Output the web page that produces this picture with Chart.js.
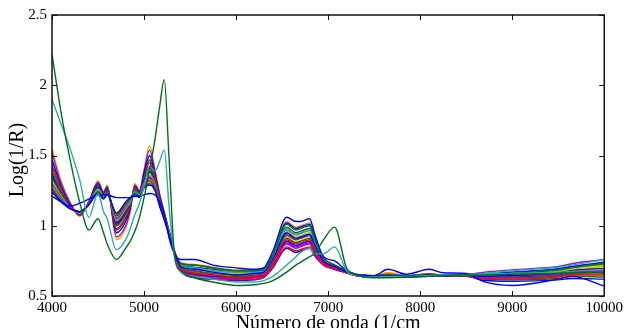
<!DOCTYPE html>
<html>
<head>
<meta charset="utf-8">
<script src="https://cdn.jsdelivr.net/npm/chart.js@4.4.1/dist/chart.umd.min.js"></script>
<style>
  html, body { margin: 0; padding: 0; background: #fff; }
  #c { display: block; }
</style>
</head>
<body>
<canvas id="c" width="626" height="328"></canvas>
<script>
// ---- data ----
const xTitle = 'Número de onda (1/cm';
const yTitle = 'Log(1/R)';
const xTicks = [4000, 5000, 6000, 7000, 8000, 9000, 10000];
const yTicks = [0.5, 1, 1.5, 2, 2.5];

const wavenumbers = [4000,4100,4200,4300,4400,4500,4560,4600,4700,4800,4850,4900,4950,5000,5060,5120,5170,5220,5270,5330,5400,5550,5750,6000,6200,6300,6400,6550,6650,6700,6800,6850,6950,7070,7200,7300,7500,7650,7850,8100,8250,8500,8700,9000,9500,9650,10000];

const specGreenOut = [2.22,1.80,1.46,1.17,0.97,1.05,0.95,0.87,0.76,0.84,0.89,0.96,1.06,1.20,1.40,1.62,1.85,2.04,1.50,0.80, 0.68,0.63,0.60,0.575,0.58,0.59,0.61,0.67,0.72,0.74,0.78,0.80,0.90,0.99,0.70,0.65, 0.63,0.63,0.635,0.64,0.645, 0.65,0.65,0.655,0.66,0.665,0.67];
const specTealOut  = [1.90,1.72,1.54,1.33,1.06,1.23,1.10,1.05,0.83,0.90,0.98,1.08,1.16,1.28,1.42,1.39,1.46,1.54,1.15,0.78, 0.67,0.64,0.62,0.60,0.60,0.61,0.64,0.72,0.78,0.81,0.84,0.80,0.80,0.85,0.68,0.645, 0.635,0.64,0.64,0.645,0.65, 0.65,0.655,0.66,0.67,0.675,0.69];
const specBlueOut  = [1.21,1.17,1.14,1.16,1.19,1.22,1.22,1.22,1.20,1.20,1.20,1.21,1.21,1.22,1.23,1.22,1.17,1.08,0.92,0.80, 0.76,0.76,0.72,0.70,0.69,0.70,0.82,1.06,1.03,1.03,1.05,0.95,0.78,0.75,0.68,0.65, 0.645,0.69,0.655,0.69,0.665, 0.66,0.60,0.575,0.62,0.64,0.57];

const specA = [1.24,1.17,1.12,1.10,1.15,1.23,1.19,1.22,1.09,1.17,1.20,1.22,1.20,1.27,1.29,1.25,1.14,1.04,0.94,0.81, 0.71,0.69,0.67,0.65,0.66,0.67,0.76,0.95,0.91,0.92,0.94,0.87,0.75,0.71,0.67,0.65, 0.64,0.645,0.64,0.65,0.645, 0.648,0.64,0.648,0.665,0.68,0.695];
const specB = [1.25,1.18,1.12,1.10,1.15,1.24,1.20,1.23,1.08,1.16,1.19,1.23,1.21,1.27,1.30,1.26,1.14,1.05,0.94,0.81, 0.73,0.72,0.70,0.68,0.68,0.69,0.79,1.01,0.97,0.98,1.00,0.91,0.77,0.72,0.68,0.65, 0.645,0.65,0.645,0.655,0.65, 0.65,0.65,0.66,0.685,0.70,0.73];
const specC = [1.27,1.18,1.13,1.10,1.15,1.24,1.20,1.23,1.07,1.15,1.19,1.23,1.21,1.28,1.32,1.26,1.15,1.05,0.94,0.81, 0.70,0.66,0.65,0.63,0.64,0.65,0.73,0.90,0.87,0.88,0.90,0.83,0.74,0.70,0.67,0.65, 0.64,0.655,0.64,0.655,0.645, 0.643,0.62,0.62,0.635,0.65,0.65];
const specD = [1.29,1.19,1.13,1.09,1.15,1.25,1.20,1.23,1.06,1.14,1.18,1.24,1.21,1.29,1.33,1.27,1.15,1.05,0.95,0.81, 0.72,0.70,0.68,0.67,0.67,0.68,0.77,0.98,0.94,0.95,0.97,0.89,0.76,0.71,0.68,0.65, 0.645,0.645,0.64,0.65,0.65, 0.654,0.66,0.68,0.705,0.72,0.76];
const specE = [1.30,1.20,1.13,1.09,1.16,1.25,1.20,1.24,1.05,1.13,1.18,1.24,1.21,1.30,1.35,1.28,1.16,1.06,0.95,0.81, 0.69,0.645,0.63,0.62,0.63,0.64,0.72,0.87,0.84,0.85,0.87,0.81,0.73,0.69,0.67,0.645, 0.64,0.64,0.635,0.645,0.64, 0.646,0.63,0.64,0.655,0.67,0.68];
const specF = [1.32,1.21,1.13,1.09,1.16,1.26,1.21,1.24,1.04,1.12,1.17,1.24,1.22,1.30,1.36,1.29,1.16,1.06,0.95,0.81, 0.72,0.69,0.67,0.66,0.66,0.67,0.76,0.96,0.92,0.93,0.95,0.87,0.76,0.71,0.67,0.65, 0.64,0.66,0.64,0.655,0.645, 0.65,0.65,0.66,0.675,0.69,0.71];
const specG = [1.34,1.22,1.13,1.09,1.16,1.26,1.21,1.24,1.03,1.11,1.17,1.25,1.22,1.31,1.38,1.30,1.17,1.06,0.95,0.81, 0.71,0.675,0.66,0.65,0.65,0.66,0.75,0.93,0.90,0.91,0.93,0.85,0.75,0.70,0.67,0.65, 0.64,0.64,0.64,0.645,0.645, 0.645,0.63,0.63,0.645,0.66,0.665];
const specH = [1.35,1.22,1.14,1.09,1.16,1.27,1.21,1.25,1.02,1.10,1.16,1.25,1.22,1.32,1.39,1.30,1.17,1.06,0.95,0.81, 0.73,0.72,0.70,0.68,0.68,0.69,0.79,1.02,0.98,0.99,1.01,0.92,0.77,0.72,0.68,0.655, 0.645,0.65,0.645,0.655,0.65, 0.652,0.66,0.67,0.695,0.71,0.74];
const specI = [1.39,1.24,1.14,1.09,1.16,1.28,1.22,1.26,1.00,1.08,1.15,1.26,1.23,1.33,1.42,1.32,1.18,1.07,0.96,0.82, 0.70,0.665,0.65,0.64,0.64,0.655,0.74,0.91,0.88,0.89,0.91,0.84,0.74,0.70,0.67,0.65, 0.64,0.64,0.64,0.645,0.64, 0.642,0.62,0.615,0.625,0.64,0.635];
const specJ = [1.42,1.26,1.14,1.08,1.16,1.28,1.22,1.26,0.98,1.06,1.14,1.27,1.23,1.34,1.45,1.34,1.19,1.08,0.96,0.82, 0.68,0.635,0.625,0.615,0.62,0.635,0.71,0.85,0.82,0.83,0.85,0.80,0.72,0.69,0.665,0.645, 0.635,0.64,0.635,0.645,0.64, 0.648,0.64,0.648,0.665,0.68,0.695];
const specK = [1.47,1.28,1.15,1.08,1.17,1.30,1.23,1.27,0.95,1.03,1.13,1.28,1.24,1.37,1.50,1.36,1.21,1.09,0.96,0.82, 0.695,0.655,0.64,0.63,0.635,0.65,0.73,0.89,0.86,0.87,0.89,0.825,0.735,0.70,0.67,0.65, 0.64,0.64,0.64,0.645,0.645, 0.645,0.63,0.635,0.65,0.665,0.67];
const specL = [1.52,1.30,1.16,1.07,1.17,1.31,1.24,1.28,0.92,1.00,1.11,1.29,1.25,1.39,1.54,1.38,1.22,1.09,0.97,0.82, 0.71,0.68,0.665,0.65,0.65,0.665,0.75,0.94,0.905,0.915,0.935,0.86,0.75,0.705,0.67,0.65, 0.64,0.645,0.64,0.65,0.65, 0.654,0.67,0.686,0.71,0.73,0.76];
const specM = [1.55,1.32,1.16,1.07,1.17,1.32,1.24,1.29,0.90,0.98,1.10,1.30,1.25,1.40,1.57,1.40,1.23,1.10,0.97,0.82, 0.70,0.67,0.655,0.64,0.645,0.66,0.74,0.92,0.885,0.895,0.915,0.845,0.745,0.70,0.67,0.65, 0.64,0.64,0.64,0.65,0.645, 0.65,0.65,0.66,0.68,0.70,0.72];
const specN = [1.26,1.18,1.12,1.10,1.15,1.24,1.20,1.23,1.08,1.16,1.19,1.23,1.21,1.28,1.31,1.26,1.14,1.05,0.94,0.81, 0.74,0.725,0.705,0.685,0.685,0.70,0.80,1.03,0.99,1.00,1.02,0.92,0.78,0.72,0.68,0.655, 0.645,0.665,0.645,0.66,0.65, 0.648,0.645,0.652,0.67,0.686,0.70];
const specO = [1.29,1.20,1.13,1.09,1.15,1.25,1.20,1.24,1.06,1.14,1.18,1.24,1.21,1.29,1.34,1.28,1.15,1.05,0.95,0.81, 0.69,0.65,0.64,0.625,0.63,0.645,0.72,0.88,0.85,0.86,0.88,0.82,0.73,0.695,0.67,0.647, 0.64,0.64,0.64,0.645,0.645, 0.651,0.655,0.669,0.69,0.708,0.73];
const specP = [1.31,1.20,1.13,1.09,1.16,1.26,1.20,1.24,1.04,1.12,1.17,1.24,1.21,1.30,1.35,1.28,1.16,1.06,0.95,0.81, 0.72,0.695,0.68,0.66,0.665,0.675,0.765,0.97,0.935,0.945,0.965,0.88,0.76,0.71,0.675,0.652, 0.64,0.66,0.64,0.655,0.645, 0.644,0.625,0.626,0.64,0.652,0.658];
const specQ = [1.37,1.23,1.14,1.09,1.16,1.27,1.21,1.25,1.01,1.09,1.16,1.26,1.22,1.32,1.41,1.31,1.18,1.07,0.95,0.81, 0.68,0.63,0.62,0.61,0.615,0.63,0.70,0.84,0.81,0.82,0.84,0.79,0.72,0.69,0.665,0.645, 0.635,0.64,0.635,0.64,0.64, 0.64,0.61,0.605,0.615,0.625,0.62];
const specR = [1.43,1.26,1.15,1.08,1.16,1.29,1.22,1.27,0.97,1.05,1.14,1.27,1.23,1.35,1.47,1.34,1.20,1.08,0.96,0.82, 0.725,0.705,0.69,0.67,0.67,0.68,0.775,0.99,0.95,0.96,0.98,0.895,0.765,0.71,0.676,0.652, 0.645,0.645,0.64,0.65,0.65, 0.647,0.64,0.643,0.66,0.675,0.69];

// drawing order: first entry ends up on top
const seriesList = [specGreenOut, specTealOut, specBlueOut, specA, specB, specC, specD, specE, specF, specG, specH, specI, specJ, specK, specL, specM, specN, specO, specP, specQ, specR];
const seriesColors = ['#006e1e', '#2fa8a8', '#0000ff', '#0000ff', '#008000', '#ff0000', '#00bfbf', '#bf00bf', '#bfbf00', '#505050', '#0000ff', '#008000', '#ff0000', '#0000ff', '#bf00bf', '#d4c000', '#ff8c00', '#8000ff', '#996633', '#0000ff', '#404040'];

// ---- chart ----
Chart.defaults.font.family = '"Liberation Serif", "Times New Roman", serif';

const datasets = seriesList.map((s, i) => ({
  data: wavenumbers.map((w, j) => ({ x: w, y: s[j] })),
  borderColor: seriesColors[i],
  borderWidth: 1.4,
  pointRadius: 0,
  fill: false,
  cubicInterpolationMode: 'monotone'
}));

const frame = {
  id: 'frame',
  afterDatasetsDraw(chart) {
    const { ctx, chartArea: a, scales: { x, y } } = chart;
    ctx.save();
    ctx.strokeStyle = '#111';
    ctx.lineWidth = 1.5;
    ctx.strokeRect(a.left, a.top, a.right - a.left, a.bottom - a.top);
    ctx.lineWidth = 1;
    const L = 5;
    ctx.beginPath();
    x.ticks.forEach(t => {
      const px = Math.round(x.getPixelForValue(t.value)) + 0.5;
      ctx.moveTo(px, a.bottom); ctx.lineTo(px, a.bottom - L);
      ctx.moveTo(px, a.top); ctx.lineTo(px, a.top + L);
    });
    y.ticks.forEach(t => {
      const py = Math.round(y.getPixelForValue(t.value)) + 0.5;
      ctx.moveTo(a.left, py); ctx.lineTo(a.left + L, py);
      ctx.moveTo(a.right, py); ctx.lineTo(a.right - L, py);
    });
    ctx.stroke();
    ctx.fillStyle = '#000';
    ctx.font = '20px "Liberation Serif", serif';
    ctx.textAlign = 'center';
    ctx.textBaseline = 'alphabetic';
    ctx.fillText(xTitle, (a.left + a.right) / 2, 329);
    ctx.translate(23, 160);
    ctx.rotate(-Math.PI / 2);
    ctx.fillText(yTitle, 0, 0);
    ctx.restore();
  }
};

new Chart(document.getElementById('c'), {
  type: 'line',
  data: { datasets },
  options: {
    responsive: false,
    animation: false,
    events: [],
    layout: { padding: { top: 15, right: 18, left: 0, bottom: 0 } },
    plugins: { legend: { display: false }, tooltip: { enabled: false } },
    scales: {
      x: {
        type: 'linear',
        min: xTicks[0], max: xTicks[xTicks.length - 1],
        grid: { display: false, drawTicks: false },
        border: { display: false },
        afterBuildTicks: s => { s.ticks = xTicks.map(v => ({ value: v })); },
        ticks: { color: '#000', font: { size: 15 }, padding: 3, maxRotation: 0, autoSkip: false, callback: v => String(v) },
        afterFit: s => { s.height = 32; }
      },
      y: {
        type: 'linear',
        min: yTicks[0], max: yTicks[yTicks.length - 1],
        grid: { display: false, drawTicks: false },
        border: { display: false },
        afterBuildTicks: s => { s.ticks = yTicks.map(v => ({ value: v })); },
        ticks: { color: '#000', font: { size: 15 }, padding: 5, callback: v => String(v) },
        afterFit: s => { s.width = 52; }
      }
    }
  },
  plugins: [frame]
});
</script>
</body>
</html>
